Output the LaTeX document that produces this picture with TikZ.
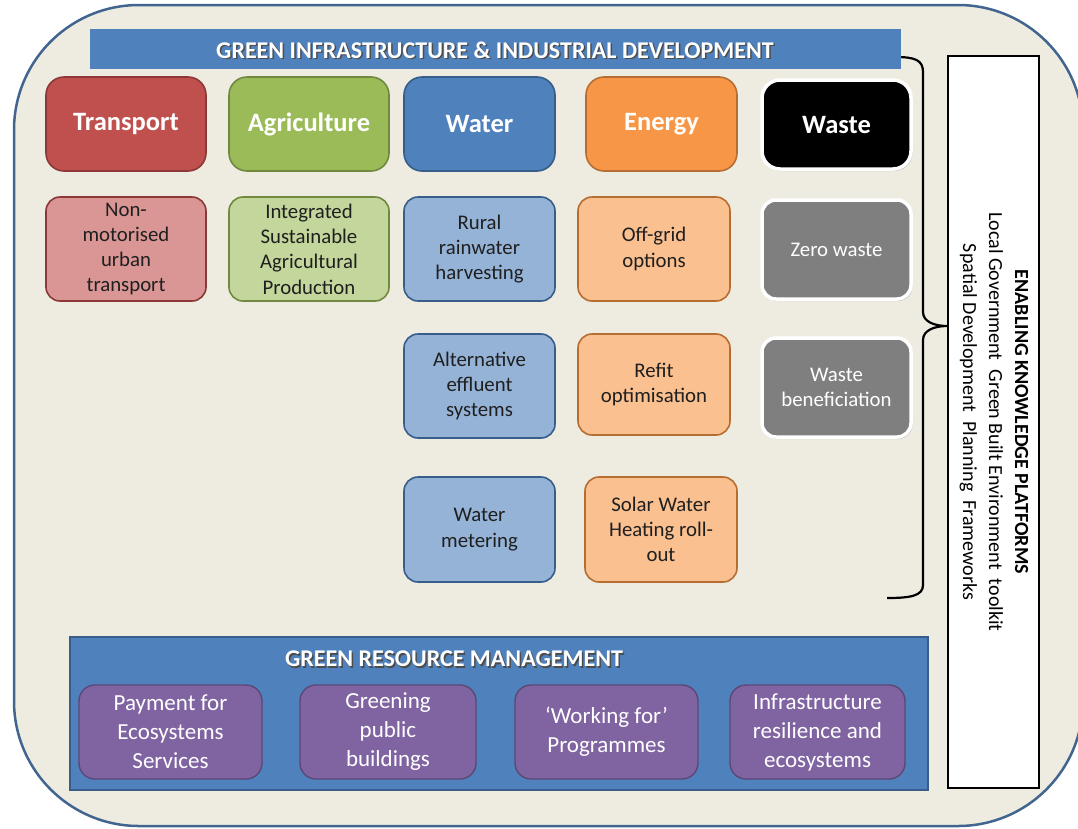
\documentclass[tikz,border=0pt]{standalone}
\usepackage{fontspec}
\setmainfont{Carlito}
\usetikzlibrary{shadows}
\definecolor{bgc}{HTML}{EEECE1}
\definecolor{outerc}{HTML}{41658F}
\definecolor{tred}{HTML}{C0504D}\definecolor{tredd}{HTML}{8C3836}\definecolor{tredl}{HTML}{D99694}
\definecolor{tgrn}{HTML}{9BBB59}\definecolor{tgrnd}{HTML}{71893F}\definecolor{tgrnl}{HTML}{C3D69B}
\definecolor{tblu}{HTML}{4F81BD}\definecolor{tblud}{HTML}{385D8A}\definecolor{tblul}{HTML}{95B3D7}
\definecolor{torg}{HTML}{F79646}\definecolor{torgd}{HTML}{B66D31}\definecolor{torgl}{HTML}{FAC090}
\definecolor{tpur}{HTML}{8064A2}\definecolor{tpurd}{HTML}{5C4776}
\definecolor{tgry}{HTML}{7F7F7F}
\newcommand{\mybox}[7]{\node[#2, minimum width={(#5-#3)*1pt}, minimum height={(#6-#4)*1pt}] (#1) at ({(#3+#5)/2},{(#4+#6)/2}) {#7};}
\begin{document}
\begin{tikzpicture}[x=1pt,y=-1pt,
  box/.style={rounded corners=14pt, line width=1.6pt, align=center, inner sep=1pt,
    font=\fontsize{20.8}{25.3}\selectfont, text=black!88},
  headbox/.style={box, rounded corners=18pt, font=\bfseries\fontsize{26.5}{30}\selectfont, text=white},
  wastebox/.style={draw=white, line width=3.5pt, fill=#1,
    drop shadow={shadow xshift=1.5pt, shadow yshift=-2pt, opacity=0.35}},
  purbox/.style={box, rounded corners=16pt, fill=tpur, draw=tpurd, line width=1.4pt, text=white,
    font=\fontsize{23}{29}\selectfont},
  titletxt/.style={font=\bfseries\fontsize{24}{28}\selectfont, text=white, inner sep=0pt},
  titleshadow/.style={font=\bfseries\fontsize{24}{28}\selectfont, text=black!70, inner sep=0pt}
]
\useasboundingbox (0,0) rectangle (1078,828);
\clip (0,0) rectangle (1078,828);
% outer frame
\draw[draw=outerc, line width=2.5pt, fill=bgc, rounded corners=125pt] (14,5) rectangle (1083,826);
% brace
\draw[line width=2.2pt, black] (895,57) .. controls (915,57) and (923,60) .. (923,72)
  -- (923,312) .. controls (923,322) and (935,326) .. (947,326)
  .. controls (935,326) and (923,330) .. (923,340)
  -- (923,585) .. controls (923,596) and (910,598) .. (887,598);
% header bar
\mybox{hdrbar}{fill=tblu, inner sep=0pt}{90}{29}{901}{69}{}
\node[titleshadow] (hdrsh) at (496.5,51.5) {GREEN INFRASTRUCTURE \& INDUSTRIAL DEVELOPMENT};
\node[titletxt] (hdrtxt) at (495,50) {GREEN INFRASTRUCTURE \& INDUSTRIAL DEVELOPMENT};
% top row
\mybox{trans}{headbox, fill=tred, draw=tredd}{46}{77}{206}{171}{Transport}
\mybox{agri}{headbox, fill=tgrn, draw=tgrnd}{229}{77}{389}{171}{Agriculture}
\mybox{water}{headbox, fill=tblu, draw=tblud}{404}{77}{555}{171}{Water}
\mybox{energy}{headbox, fill=torg, draw=torgd}{586}{77}{737}{171}{Energy}
\mybox{waste}{headbox, wastebox=black}{762}{80}{911}{169}{Waste}
% row 2
\mybox{nmt}{box, fill=tredl, draw=tredd}{46}{197}{206}{301}{Non-\\motorised\\urban\\transport}
\mybox{isap}{box, fill=tgrnl, draw=tgrnd}{229}{197}{389}{301}{Integrated\\Sustainable\\Agricultural\\Production}
\mybox{rrh}{box, fill=tblul, draw=tblud}{404}{197}{555}{301}{Rural\\rainwater\\harvesting}
\mybox{offg}{box, fill=torgl, draw=torgd}{578}{197}{730}{301}{Off-grid\\options}
\mybox{zero}{box, wastebox=tgry, text=white}{762}{200}{911}{299}{Zero waste}
% row 3
\mybox{aes}{box, fill=tblul, draw=tblud}{404}{334}{555}{438}{Alternative\\effluent\\systems}
\mybox{refit}{box, fill=torgl, draw=torgd}{578}{334}{730}{435}{Refit\\optimisation}
\mybox{wben}{box, wastebox=tgry, text=white}{762}{338}{911}{437}{Waste\\beneficiation}
% row 4
\mybox{wmet}{box, fill=tblul, draw=tblud}{404}{477}{555}{582}{Water\\metering}
\mybox{swh}{box, fill=torgl, draw=torgd}{585}{477}{737}{582}{Solar Water\\Heating roll-\\out}
% enabling platforms
\mybox{enab}{draw=black, fill=white, line width=2.5pt}{948}{56}{1039}{788}{}
\node[rotate=-90, align=center, font=\fontsize{20}{26}\selectfont, inner sep=0pt] (enabtxt) at (994,422)
  {\textbf{ENABLING KNOWLEDGE PLATFORMS}\\Local Government\ \ Green Built Environment\ \ toolkit\\Spatial Development\ \ Planning\ \ Frameworks};
% green resource management
\mybox{grm}{fill=tblu, draw=tblud, line width=1.6pt}{70}{637}{928}{790}{}
\node[titleshadow] (grmsh) at (455.5,660.5) {GREEN RESOURCE MANAGEMENT};
\node[titletxt] (grmtxt) at (454,659) {GREEN RESOURCE MANAGEMENT};
\mybox{pay}{purbox}{79}{685}{262}{779}{Payment for\\Ecosystems\\Services}
\mybox{gpb}{purbox}{300}{685}{476}{779}{Greening\\public\\buildings}
\mybox{wfp}{purbox}{515}{685}{698}{779}{‘Working for’\\Programmes}
\mybox{ire}{purbox}{730}{685}{905}{779}{Infrastructure\\resilience and\\ecosystems}
\end{tikzpicture}
\end{document}
